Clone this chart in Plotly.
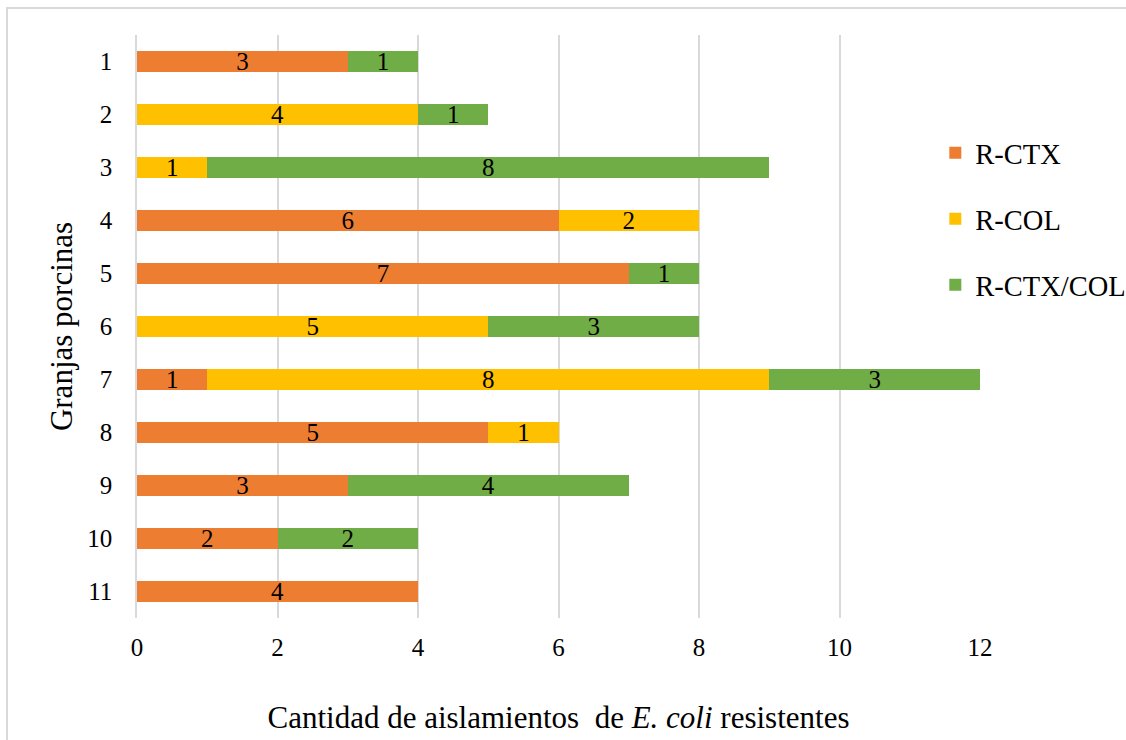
import plotly.graph_objects as go

granjas = ["1", "2", "3", "4", "5", "6", "7", "8", "9", "10", "11"]
r_ctx = [3, None, None, 6, 7, None, 1, 5, 3, 2, 4]
r_col = [None, 4, 1, 2, None, 5, 8, 1, None, None, None]
r_ctx_col = [1, 1, 8, None, 1, 3, 3, None, 4, 2, None]

series = [
    ("R-CTX", r_ctx, "#ED7D31"),
    ("R-COL", r_col, "#FFC000"),
    ("R-CTX/COL", r_ctx_col, "#70AD47"),
]

FONT = "Liberation Serif, Times New Roman, serif"

fig = go.Figure()
for i, (name, vals, color) in enumerate(series):
    fig.add_trace(go.Bar(
        y=granjas, x=vals, name=name, orientation="h",
        marker=dict(color=color, line=dict(width=0)),
        text=[("" if v is None else str(v)) for v in vals],
        textposition="inside", insidetextanchor="middle", textangle=0,
        constraintext="none",
        textfont=dict(family=FONT, size=25, color="black"),
        legendgroup=name,
        hoverinfo="skip",
    ))

fig.update_layout(
    width=1126, height=740,
    barmode="stack", bargap=0.6,
    paper_bgcolor="white", plot_bgcolor="white",
    margin=dict(l=137, r=146, t=35, b=122, autoexpand=False),
    font=dict(family=FONT, size=25, color="black"),
    legend=dict(
        x=0.947, xanchor="left", y=0.841, yanchor="top",
        traceorder="grouped", tracegroupgap=26,
        font=dict(family=FONT, size=28.5, color="black"),
        bgcolor="rgba(0,0,0,0)", itemwidth=30,
    ),
    xaxis=dict(
        range=[0, 12], dtick=2, tick0=0,
        showgrid=True, gridcolor="#D9D9D9", gridwidth=1.5,
        zeroline=False, showline=False, automargin=False,
        ticks="", ticklabelstandoff=12,
        tickfont=dict(family=FONT, size=25, color="black"),
        title=dict(text="Cantidad de aislamientos  de <i>E. coli</i> resistentes",
                   font=dict(family=FONT, size=31, color="black"), standoff=46),
        fixedrange=True,
    ),
    yaxis=dict(
        autorange="reversed", type="category",
        showgrid=False, zeroline=False, automargin=False,
        showline=True, linecolor="#D9D9D9", linewidth=1.5,
        ticks="", ticklabelstandoff=18,
        tickfont=dict(family=FONT, size=25, color="black"),
        title=dict(text="Granjas porcinas",
                   font=dict(family=FONT, size=31, color="black"), standoff=5),
        fixedrange=True,
    ),
    shapes=[dict(
        type="rect", xref="paper", yref="paper",
        x0=(7 - 137) / 843, x1=1.3, y0=-0.5, y1=(618 - 8) / 583,
        line=dict(color="#D9D9D9", width=2), fillcolor="rgba(0,0,0,0)",
        layer="below",
    )],
)

fig.write_html(
    "out.html",
    config={"displayModeBar": False},
    post_script="document.body.style.margin='0';document.body.style.overflow='hidden';",
)
